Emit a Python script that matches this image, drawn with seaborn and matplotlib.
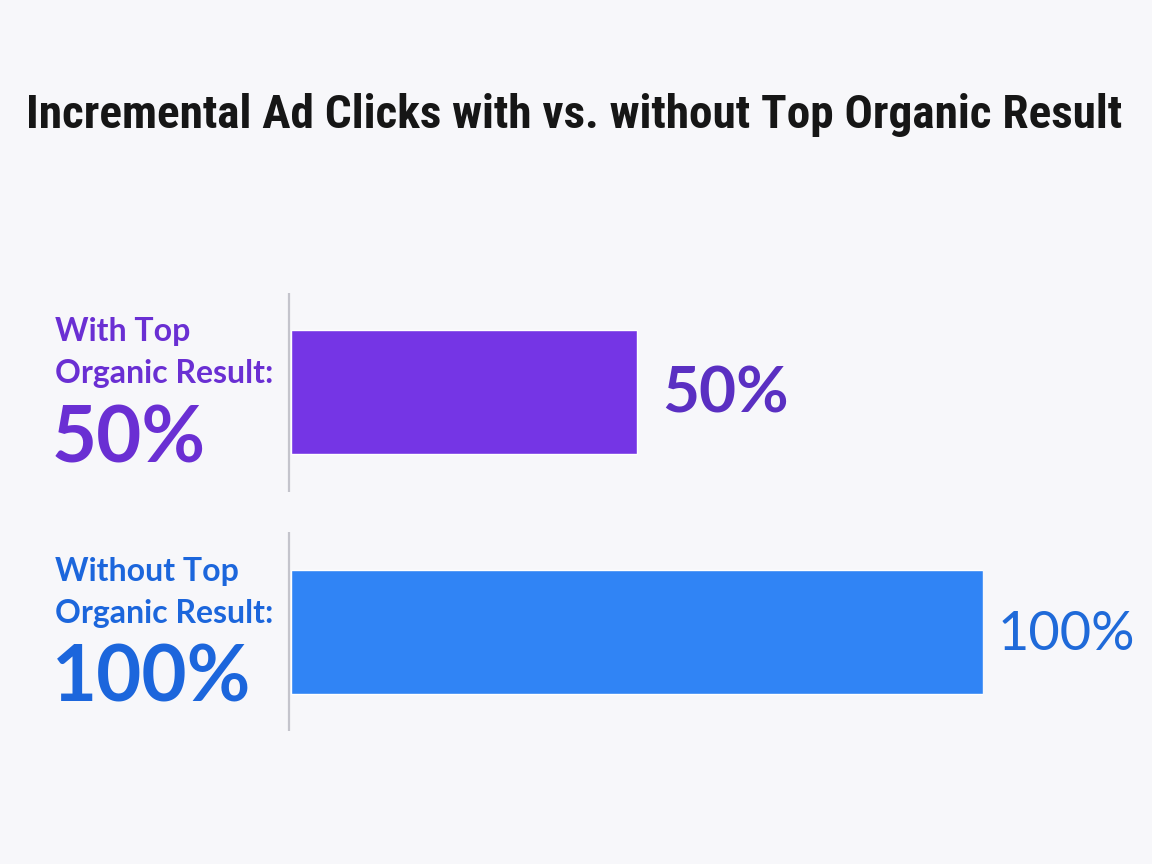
import matplotlib
matplotlib.use("Agg")
import matplotlib.pyplot as plt
import seaborn as sns

categories = ["With Top Organic Result", "Without Top Organic Result"]
values = [50, 100]
label_lines = [["With Top", "Organic Result:"], ["Without Top", "Organic Result:"]]
value_labels = ["50%", "100%"]
bar_colors = ["#7535e5", "#3084f5"]
text_colors = ["#6a2fd3", "#1c66dc"]
value_colors = ["#5a2fc2", "#1f6ad9"]
title = "Incremental Ad Clicks with vs. without Top Organic Result"

bg = "#f7f7fa"

sns.set_theme(style="white")
plt.rcParams["font.family"] = ["Lato", "DejaVu Sans"]

fig = plt.figure(figsize=(11.52, 8.64), dpi=100, facecolor=bg)
ax = fig.add_axes([291 / 1152, 1 - 731 / 864, (983 - 291) / 1152, (731 - 293) / 864])
ax.set_facecolor(bg)

sns.barplot(x=values, y=categories, hue=categories, palette=bar_colors,
            orient="h", width=0.518, legend=False, saturation=1, ax=ax)
ax.set_xlim(0, 100)
ax.set_ylim(1.415, -0.415)
ax.set_xticks([])
ax.set_yticks([])
ax.set_xlabel("")
ax.set_ylabel("")
for s in ax.spines.values():
    s.set_visible(False)

# separators, one per bar
for i in range(len(categories)):
    ax.vlines(-0.3, i - 0.415, i + 0.415, color="#c4c4cc", lw=1.6, clip_on=False)

# left-side labels
for i, (lines, big) in enumerate(zip(label_lines, value_labels)):
    for line, dy in zip(lines, [51, 9]):
        ax.annotate(line, xy=(55 / 1152, i), xycoords=("figure fraction", "data"),
                    xytext=(0, dy), textcoords="offset pixels", va="baseline",
                    ha="left", fontsize=23, fontweight="bold", color=text_colors[i])
    ax.annotate(big, xy=(52 / 1152, i), xycoords=("figure fraction", "data"),
                xytext=(0, -70), textcoords="offset pixels", va="baseline",
                ha="left", fontsize=56, fontweight="bold", color=text_colors[i])

# value labels at bar ends
for i, (v, lab) in enumerate(zip(values, value_labels)):
    ax.annotate(lab, xy=(v, i), xytext=(25 if i == 0 else 15, -20 if i == 0 else -18),
                textcoords="offset pixels", va="baseline", ha="left",
                fontsize=46 if i == 0 else 39, fontweight="bold" if i == 0 else "normal",
                color=value_colors[i], annotation_clip=False)

fig.text(574 / 1152, 1 - 115 / 864, title, ha="center", va="center",
         fontsize=34, fontweight="bold", color="#161616",
         family=["Roboto Condensed", "Roboto", "DejaVu Sans"])

fig.savefig("out.png", dpi=100, facecolor=bg)
